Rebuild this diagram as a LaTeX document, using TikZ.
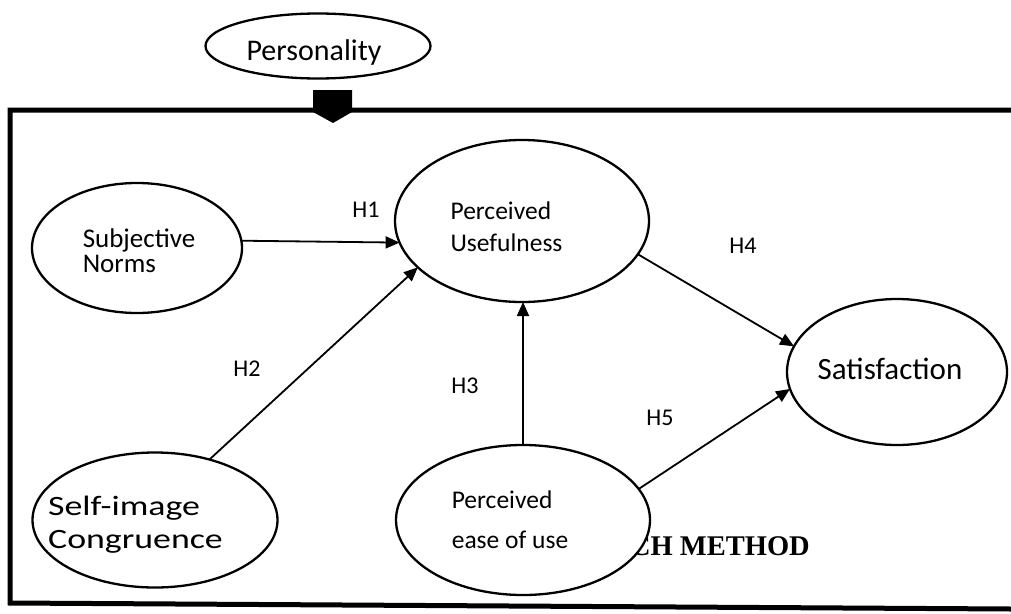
\documentclass[tikz,border=0pt]{standalone}
\usepackage{graphicx}
\usepackage{fontspec}
\setmainfont{Carlito}
\newfontfamily\serifbf{Liberation Serif}
\usetikzlibrary{arrows.meta,shapes.geometric}
% #1 = twice the horizontal shift, #2 = vertical shift (positive = up), #3 = lines
\newcommand\ovaltext[3]{\raisebox{#2}[\height][\depth]{\makebox[0pt]{\hspace*{#1}\begin{tabular}{@{}l@{}}#3\end{tabular}}}}
\begin{document}
\begin{tikzpicture}[x=1pt,y=-1pt,
  oval/.style={draw, ellipse, line width=2.3pt, fill=white, inner sep=0pt, outer sep=0pt},
  link/.style={line width=1.8pt, -{Triangle[length=14pt,width=12pt]}},
  hyp/.style={inner sep=0pt, font=\fontsize{24}{28}\selectfont}]
\useasboundingbox (0,0) rectangle (1011,613);

% frame (open on the right)
\draw[line width=5pt, line join=miter] (1011,110) -- (10,110) -- (10,603) -- (1011,609);

% text partly hidden by the ellipse
\node[anchor=base east, inner sep=0pt, font=\serifbf\bfseries\fontsize{28.5}{32}\selectfont] (rm) at (810,555) {RCH METHOD};

% nodes
\node[oval, minimum width=225pt, minimum height=65pt, font=\fontsize{30}{35}\selectfont]
  (pers) at (318,46) {\ovaltext{-8pt}{-7.5pt}{Personality}};
\node[oval, minimum width=210pt, minimum height=130pt, font=\fontsize{27}{25}\selectfont]
  (sn) at (137,248) {\ovaltext{4pt}{-6pt}{Subjective\\Norms}};
\node[oval, minimum width=254pt, minimum height=162pt, font=\fontsize{25.5}{32}\selectfont]
  (pu) at (522,221) {\ovaltext{-31pt}{-8.5pt}{Perceived\\Usefulness}};
\node[oval, minimum width=245pt, minimum height=135pt, font=\fontsize{28}{33}\selectfont]
  (si) at (155,520) {\ovaltext{-39pt}{-5pt}{\scalebox{1.28}[1]{Self-image}\\\scalebox{1.28}[1]{Congruence}}};
\node[oval, minimum width=254pt, minimum height=150pt, font=\fontsize{25.5}{40}\selectfont]
  (ease) at (523,520) {\ovaltext{-26pt}{0pt}{Perceived\\ease of use}};
\node[oval, minimum width=220pt, minimum height=146pt, font=\fontsize{31}{37}\selectfont]
  (sat) at (897,372) {\ovaltext{-14pt}{0pt}{Satisfaction}};

% block arrow from Personality into the frame
\fill[black] (313,90) -- (352,90) -- (352,112) -- (333,123) -- (313,112) -- cycle;

% hypothesis labels
\node[hyp] (h1) at (366,210) {H1};
\node[hyp] (h2) at (247,369) {H2};
\node[hyp] (h3) at (465,386) {H3};
\node[hyp] (h4) at (743,246) {H4};
\node[hyp] (h5) at (660,418) {H5};

% connectors
\draw[link] (sn.4) -- (pu.190);
\draw[link] (si.48) -- (pu.204);
\draw[link] (ease.north) -- (ease.north |- pu.south);
\draw[link] (pu.344) -- (sat.166);
\draw[link] (ease.15) -- (sat.189);
\end{tikzpicture}
\end{document}
